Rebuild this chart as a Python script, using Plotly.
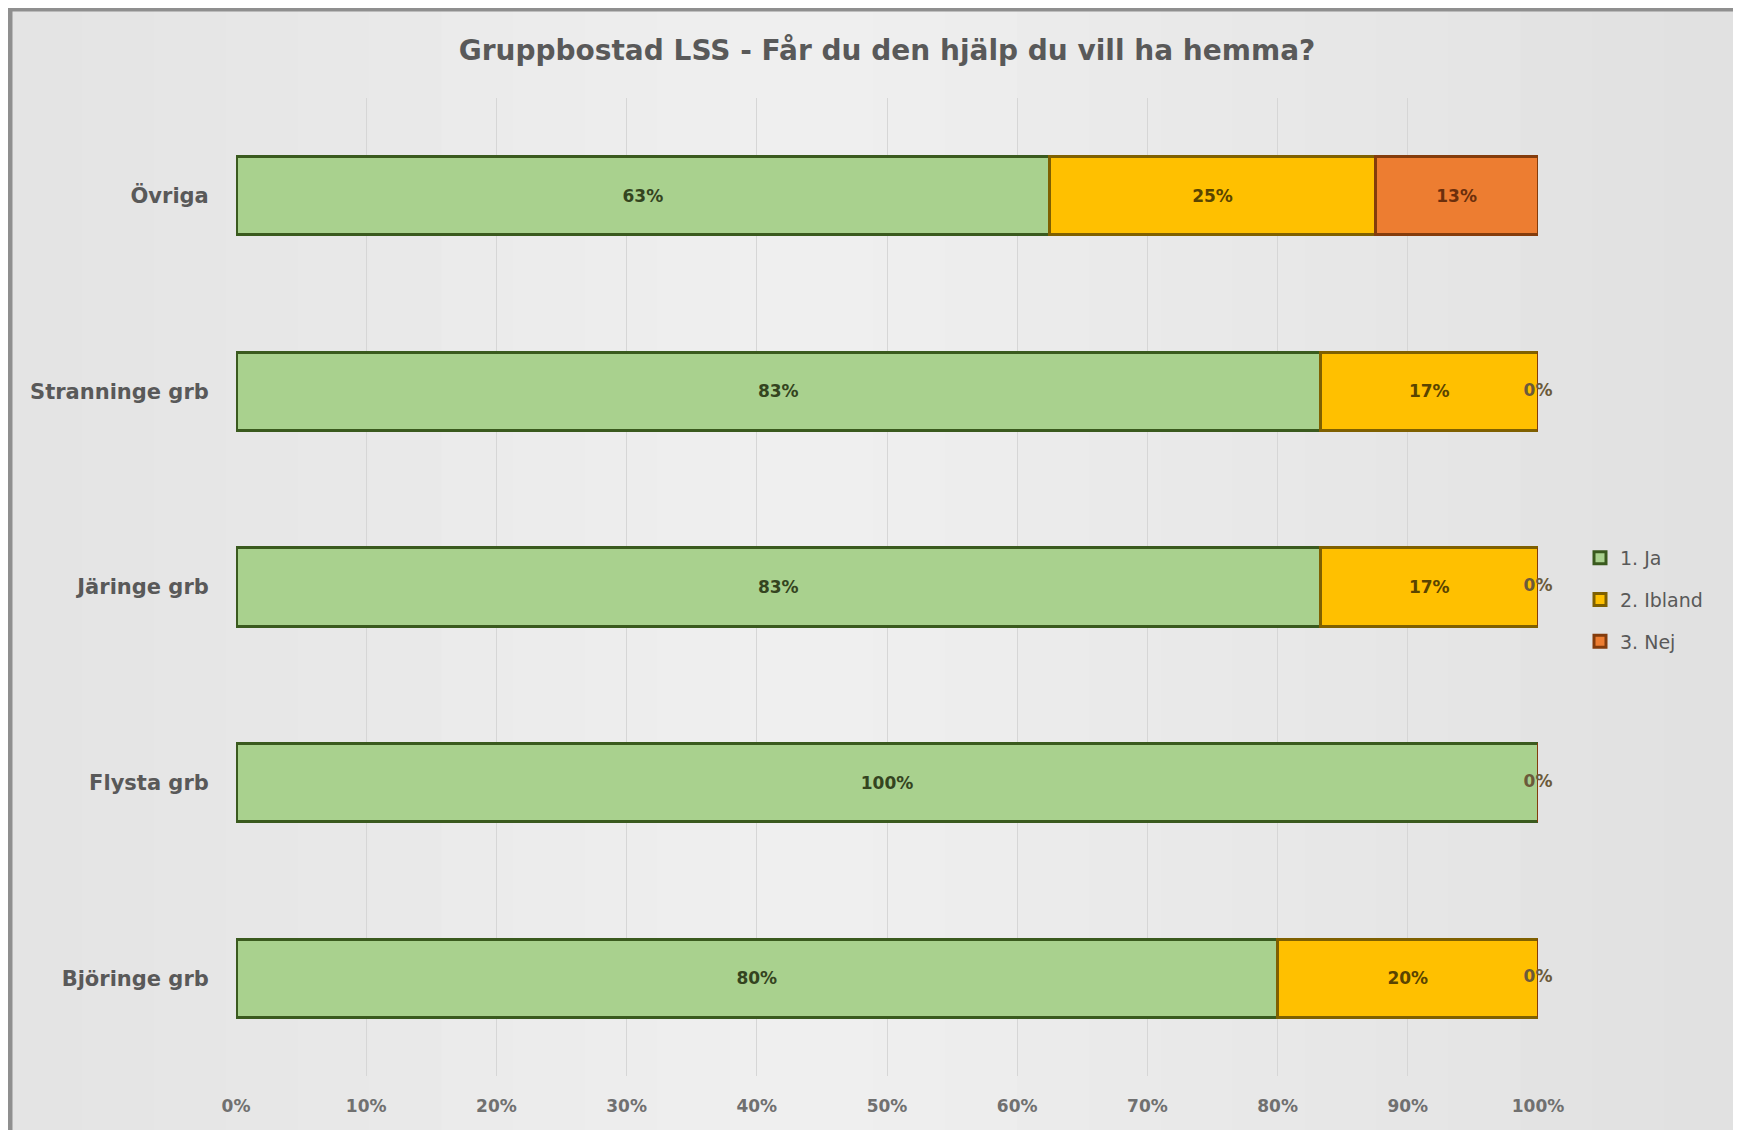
import plotly.graph_objects as go

# data (shares of respondents)
categories = ['Övriga', 'Stranninge grb', 'Järinge grb', 'Flysta grb', 'Björinge grb']
ja     = [0.625, 0.833, 0.833, 1.0, 0.80]
ibland = [0.25, 0.167, 0.167, 0.0, 0.20]
nej    = [0.125, 0.0, 0.0, 0.0, 0.0]
series_names = ['1. Ja', '2. Ibland', '3. Nej']
x_ticks = [0, 0.1, 0.2, 0.3, 0.4, 0.5, 0.6, 0.7, 0.8, 0.9, 1.0]

FONT = 'DejaVu Sans, Century Gothic, sans-serif'
GRAY = '#595959'

fills = ['#A9D18E', '#FFC000', '#ED7D31']
edges = ['#3A5A1E', '#7F6000', '#843C0C']
label_cols = ['#34441f', '#5a4400', '#6b2f0c']

# page is offset by the 8px body margin, so work in page pixels minus 8
OFF = 8
W, H = 1741 - OFF, 1130 - OFF
L, R, T, B = 236 - OFF, 203, 98 - OFF, 54
pw, ph = W - L - R, H - T - B


def px_x(p):
    return (p - OFF - L) / pw


def px_y(p):
    return (H - B - (p - OFF)) / ph


def pct(v):
    return '{}%'.format(int(v * 100 + 0.5))


fig = go.Figure()

values = [ja, ibland, nej]
for name, vals, fc, ec, lc in zip(series_names, values, fills, edges, label_cols):
    fig.add_trace(go.Bar(
        y=categories, x=vals, name=name, orientation='h', legendgroup=name,
        marker=dict(color=fc, line=dict(color=ec, width=3)),
        text=[pct(v) if v > 0 else '' for v in vals],
        textposition='inside', insidetextanchor='middle',
        textfont=dict(family=FONT, size=17, color=lc, weight='bold'),
        constraintext='none',
    ))

# zero-valued segments still get a "0%" label at the end of the stack
zero_x, zero_y = [], []
for i, c in enumerate(categories):
    if nej[i] == 0:
        zero_x.append(ja[i] + ibland[i] + nej[i])
        zero_y.append(c)
fig.add_trace(go.Scatter(
    x=zero_x, y=zero_y, mode='text', text=[pct(0)] * len(zero_x),
    textfont=dict(family=FONT, size=17, color='#6b5a3a', weight='bold'),
    showlegend=False, cliponaxis=False, hoverinfo='skip',
))

# background panel: soft gradient and grey frame
shapes = []
stripes = 24
x0, x1 = px_x(10), px_x(1736)
for k in range(stripes):
    t = k / (stripes - 1)
    d = abs(t - 0.45)
    g = int(240 - 26 * d)
    shapes.append(dict(type='rect', xref='paper', yref='paper', layer='below',
                       x0=x0 + (x1 - x0) * k / stripes,
                       x1=x0 + (x1 - x0) * (k + 1) / stripes + 0.001,
                       y0=px_y(1140), y1=px_y(9),
                       fillcolor='rgb({0},{0},{0})'.format(g), line=dict(width=0)))
shapes.append(dict(type='rect', xref='paper', yref='paper', layer='above',
                   x0=x0, x1=x1, y0=px_y(1150), y1=px_y(9),
                   line=dict(color='#8f8f8f', width=5), fillcolor='rgba(0,0,0,0)'))

fig.update_layout(
    width=W, height=H,
    margin=dict(l=L, r=R, t=T, b=B),
    paper_bgcolor='#f5f6f1', plot_bgcolor='rgba(0,0,0,0)',
    barmode='stack', bargap=0.6,
    shapes=shapes,
    title=dict(text='Gruppbostad LSS - Får du den hjälp du vill ha hemma?',
               x=0.5, xref='paper', xanchor='center', y=1 - (50 - OFF) / H, yanchor='middle',
               font=dict(family=FONT, size=28, color=GRAY, weight='bold')),
    legend=dict(x=px_x(1580), y=px_y(600), xanchor='left', yanchor='middle',
                traceorder='grouped', bgcolor='rgba(0,0,0,0)',
                font=dict(family=FONT, size=19, color=GRAY),
                itemwidth=30, tracegroupgap=14),
    xaxis=dict(range=[0, 1], tickvals=x_ticks, tickformat='.0%',
               showgrid=True, gridcolor='#d6d6d6', gridwidth=1, zeroline=False,
               showline=False, ticks='outside', ticklen=15, tickcolor='rgba(0,0,0,0)',
               tickfont=dict(family=FONT, size=17, color='#707070', weight='bold')),
    yaxis=dict(categoryorder='array', categoryarray=categories, autorange='reversed',
               showgrid=False, showline=False, zeroline=False,
               ticks='outside', ticklen=22, tickcolor='rgba(0,0,0,0)',
               tickfont=dict(family=FONT, size=21, color=GRAY, weight='bold')),
)

fig.write_html('out.html')
